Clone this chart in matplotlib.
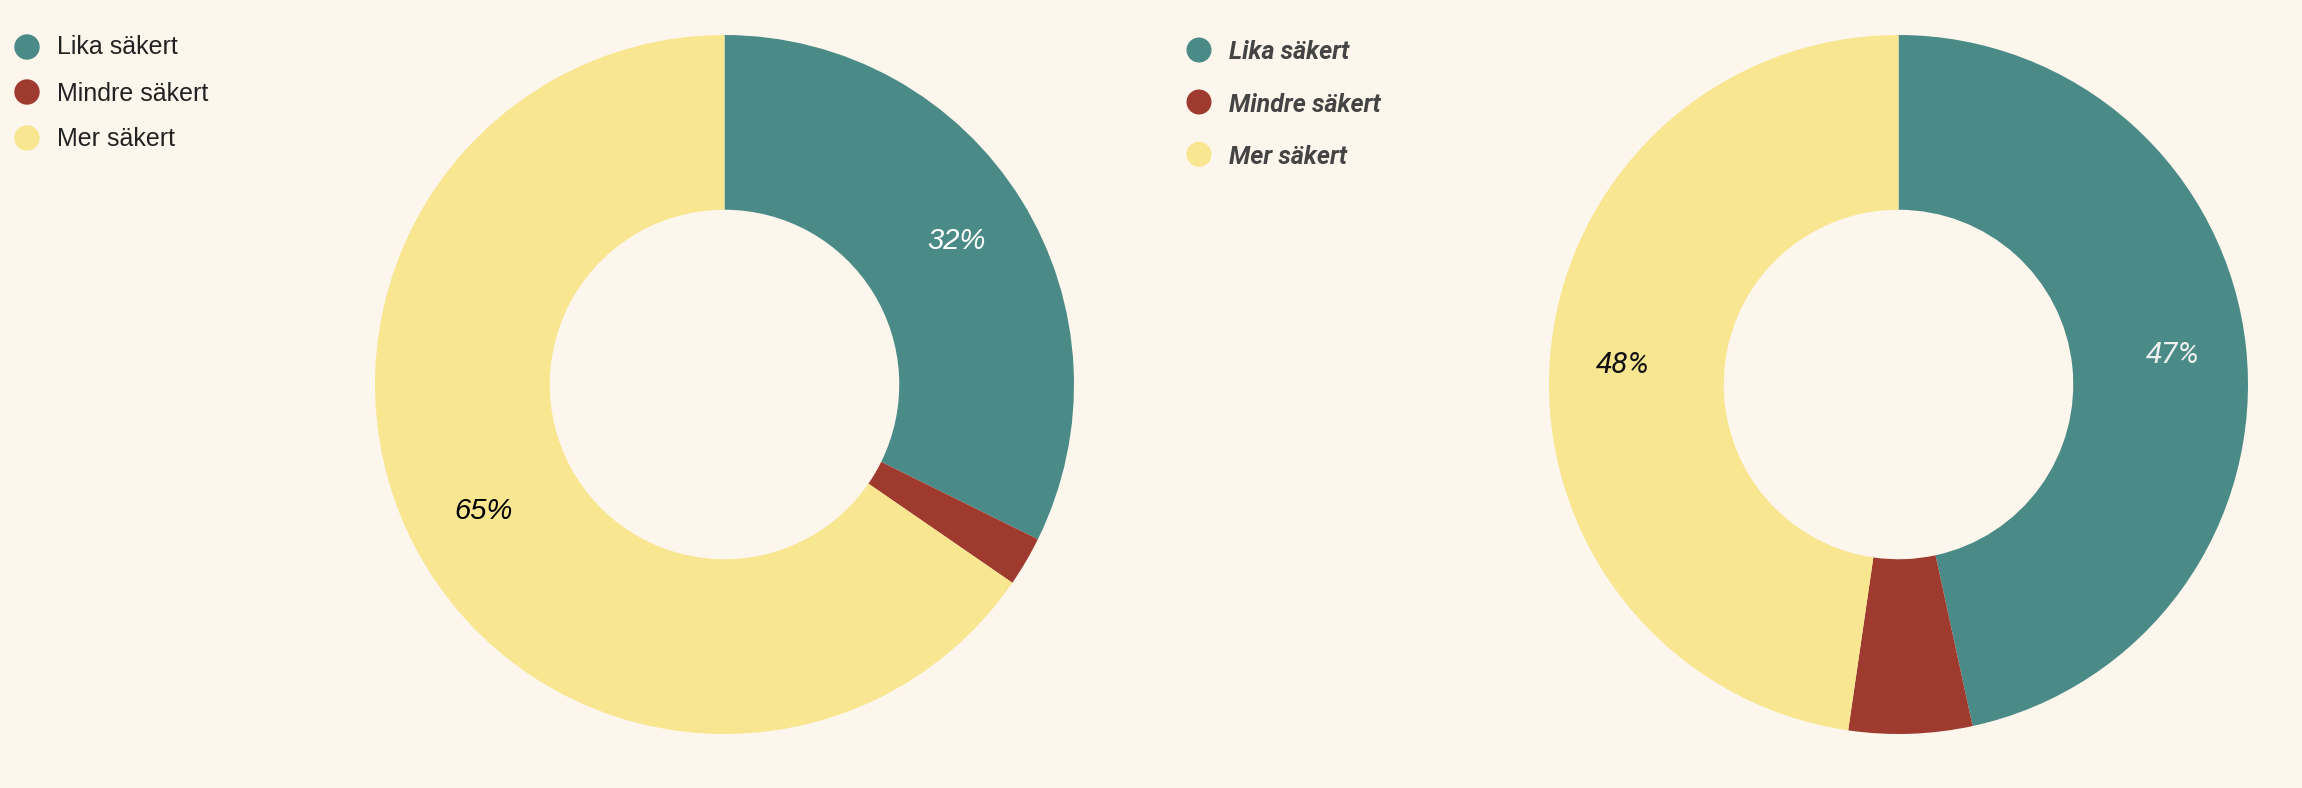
import matplotlib
matplotlib.use("Agg")
import matplotlib.pyplot as plt
from matplotlib.patches import Circle

categories = ["Lika säkert", "Mindre säkert", "Mer säkert"]
left_values = [32.3, 2.3, 65.4]
right_values = [46.6, 5.7, 47.7]
colors = ["#4a8b88", "#9e3b2e", "#f8e690"]
bg = "#fdf6ec"

W, H = 2302, 788
fig = plt.figure(figsize=(W / 100, H / 100), dpi=100, facecolor=bg)


def pie_axes(cx, cy, r):
    return fig.add_axes([(cx - r) / W, (H - cy - r) / H, 2 * r / W, 2 * r / H])


def autopct(p):
    return f"{p:.0f}%" if p > 10 else ""


# Left donut
axl = pie_axes(724.5, 384.5, 349.5)
axl.set_facecolor(bg)
_, _, tl = axl.pie(left_values, colors=colors, startangle=90, counterclock=False,
                   radius=1, wedgeprops=dict(width=0.5, linewidth=0),
                   autopct=autopct, pctdistance=0.78)
axl.set_xlim(-1, 1); axl.set_ylim(-1, 1); axl.set_aspect("equal"); axl.axis("off")
lbl_colors_l = ["white", "white", "black"]
for t, c in zip(tl, lbl_colors_l):
    t.set_color(c); t.set_fontsize(21); t.set_style("italic")
    t.set_family(["Liberation Sans", "DejaVu Sans"])

# Right donut
axr = pie_axes(1898.5, 384.5, 349.5)
axr.set_facecolor(bg)
_, _, tr = axr.pie(right_values, colors=colors, startangle=90, counterclock=False,
                   radius=1, wedgeprops=dict(width=0.5, linewidth=0),
                   autopct=autopct, pctdistance=0.79)
axr.set_xlim(-1, 1); axr.set_ylim(-1, 1); axr.set_aspect("equal"); axr.axis("off")
lbl_colors_r = ["#f0f0f0", "#f0f0f0", "#111111"]
for t, c in zip(tr, lbl_colors_r):
    t.set_color(c); t.set_fontsize(21.5); t.set_style("italic"); t.set_weight("normal")
    t.set_family(["Roboto", "DejaVu Sans"])

# Overlay axes in pixel coordinates for legends
ov = fig.add_axes([0, 0, 1, 1], zorder=5)
ov.set_xlim(0, W); ov.set_ylim(H, 0); ov.axis("off"); ov.patch.set_alpha(0)

left_circle_y = [47, 92, 138]
left_base_y = [54.3, 100.7, 146]
for cat, col, cy, by in zip(categories, colors, left_circle_y, left_base_y):
    ov.add_patch(Circle((27, cy), 12.7, color=col, lw=0))
    ov.text(57, by, cat, fontsize=18, color="#222222", va="baseline", ha="left",
            family=["Liberation Sans", "DejaVu Sans"])

right_circle_y = [50, 102, 154.3]
right_base_y = [59.3, 111.7, 164]
for cat, col, cy, by in zip(categories, colors, right_circle_y, right_base_y):
    ov.add_patch(Circle((1199, cy), 12.5, color=col, lw=0))
    ov.text(1229, by, cat, fontsize=18, color="#444444", va="baseline", ha="left",
            style="italic", weight="bold", family=["Roboto", "DejaVu Sans"])

fig.savefig("out.png", dpi=100, facecolor=bg)
